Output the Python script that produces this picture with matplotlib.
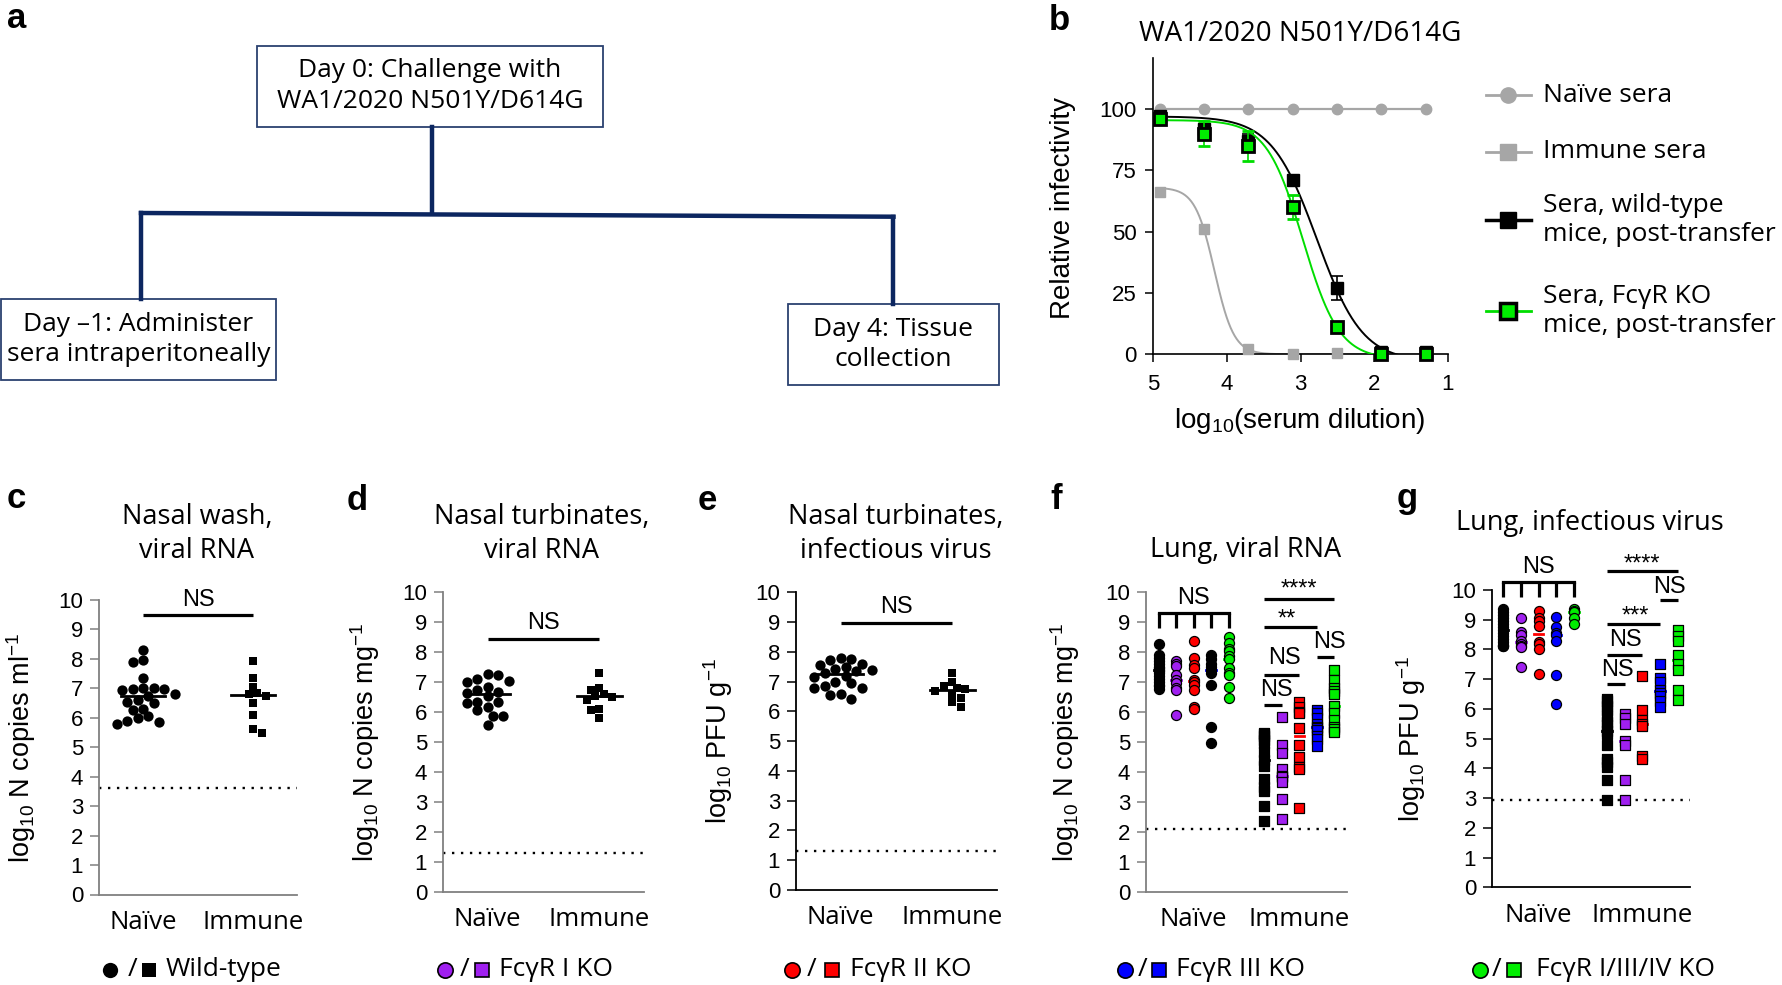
import numpy as np
import matplotlib
matplotlib.use("Agg")
import matplotlib.pyplot as plt
from matplotlib.patches import Rectangle

plt.rcParams['font.family'] = ['Liberation Sans', 'DejaVu Sans']
plt.rcParams['mathtext.default'] = 'regular'
SANS = ['Open Sans', 'DejaVu Sans']

# ---------------- data ----------------
# panel b: neutralisation curves
dilution_log10 = [4.91, 4.31, 3.71, 3.11, 2.51, 1.91, 1.30]
naive_sera = [100, 100, 100, 100, 100, 100, 100]
immune_sera = [66, 51, 2, 0, 0.5, 0, 0]
wt_sera = [97, 92, 87, 71, 27, 1, 1]
wt_sem = [1.0, 2.0, 3.0, 2.0, 5.0, 0.5, 0.5]
ko_sera = [96, 90, 85, 60, 11, 0, 0]
ko_sem = [1.0, 5.0, 6.0, 5.0, 1.0, 0.0, 0.0]
# fitted four-parameter logistic (top, bottom, logEC50, hill)
fit_immune = (68, 0, 4.17, 3.3)
fit_wt = (97, -3, 2.78, 1.4)
fit_ko = (95.5, -2, 2.97, 1.76)

group_labels = ['Naïve', 'Immune']
genotype_labels = ['Wild-type', 'FcγR I KO', 'FcγR II KO', 'FcγR III KO', 'FcγR I/III/IV KO']
genotype_colors = ['#000000', '#A020F0', '#FF0000', '#0000FF', '#00EE00']

# panel c: nasal wash viral RNA
c_naive = [8.3, 7.95, 7.88, 7.35, 7.02, 7.0, 6.98, 6.95, 6.97, 6.8, 6.75, 6.6, 6.55,
           6.5, 6.3, 6.25, 6.05, 6.0, 5.88, 5.85, 5.78]
c_immune = [7.93, 7.35, 7.05, 6.85, 6.8, 6.75, 6.5, 6.1, 5.62, 5.5]
c_lod = 3.63
# panel d: nasal turbinates viral RNA
d_naive = [7.28, 7.22, 7.1, 7.05, 7.0, 6.85, 6.72, 6.68, 6.65, 6.55, 6.35, 6.32, 6.3,
           6.15, 6.05, 5.88, 5.85, 5.55]
d_immune = [7.3, 6.8, 6.75, 6.6, 6.55, 6.5, 6.4, 6.1, 6.05, 5.8]
d_lod = 1.3
# panel e: nasal turbinates infectious virus
e_naive = [7.78, 7.75, 7.72, 7.6, 7.55, 7.5, 7.42, 7.38, 7.35, 7.3, 7.2, 7.15, 7.0,
           6.95, 6.85, 6.8, 6.78, 6.6, 6.55, 6.4]
e_immune = [7.3, 7.0, 6.85, 6.8, 6.75, 6.7, 6.55, 6.45, 6.3, 6.15]
e_lod = 1.3

# panel f: lung viral RNA (wt, FcgRI KO, FcgRII KO, FcgRIII KO, FcgRI/III/IV KO)
f_naive_wt = [8.25, 7.9, 7.8, 7.7, 7.6, 7.5, 7.45, 7.4, 7.35, 7.3, 7.2, 7.1, 7.0, 6.9, 6.85, 6.75]
f_naive_ko1 = [7.68, 7.6, 7.52, 7.22, 7.05, 6.95, 6.78, 6.72, 5.9]
f_naive_ko2 = [8.35, 7.78, 7.55, 7.45, 7.05, 6.98, 6.88, 6.72, 6.15, 6.08]
f_naive_ko3 = [7.88, 7.75, 7.6, 7.5, 7.4, 7.3, 6.9, 5.5, 4.95]
f_naive_ko134 = [8.48, 8.3, 8.08, 8.02, 7.85, 7.75, 7.45, 7.3, 7.22, 6.82, 6.45]
f_immune_wt = [5.3, 5.25, 5.2, 5.05, 4.95, 4.65, 4.4, 4.2, 3.75, 3.5, 3.35, 2.85, 2.35]
f_immune_ko1 = [5.82, 4.88, 4.62, 4.1, 3.87, 3.82, 3.65, 3.1, 2.42]
f_immune_ko2 = [6.33, 6.15, 6.0, 5.95, 5.45, 4.9, 4.5, 4.15, 4.08, 2.78]
f_immune_ko3 = [6.05, 5.95, 5.8, 5.6, 5.5, 5.45, 5.4, 5.2, 5.1, 4.85]
f_immune_ko134 = [7.4, 7.05, 6.8, 6.7, 6.6, 6.2, 5.95, 5.72, 5.5, 5.42, 5.33]
f_lod = 2.1

# panel g: lung infectious virus
g_naive_wt = [9.35, 9.25, 9.15, 9.05, 8.95, 8.85, 8.75, 8.65, 8.55, 8.45, 8.35, 8.25, 8.15, 8.1, 8.1]
g_naive_ko1 = [9.05, 8.6, 8.48, 8.28, 8.2, 8.12, 8.08, 7.42]
g_naive_ko2 = [9.28, 9.05, 8.95, 8.8, 8.25, 8.18, 8.0, 7.17]
g_naive_ko3 = [9.08, 8.75, 8.55, 8.5, 8.28, 7.15, 6.15]
g_naive_ko134 = [9.35, 9.3, 9.25, 9.05, 8.85]
g_immune_wt = [6.35, 6.25, 6.1, 5.95, 5.75, 5.55, 5.45, 5.25, 5.15, 4.8, 4.3, 4.2, 4.05, 3.6, 2.93]
g_immune_ko1 = [5.82, 5.68, 5.5, 4.93, 4.78, 3.6, 2.93]
g_immune_ko2 = [7.1, 5.98, 5.62, 5.5, 5.42, 4.4, 4.3]
g_immune_ko3 = [7.5, 7.05, 6.9, 6.65, 6.55, 6.45, 6.25, 6.05]
g_immune_ko134 = [8.65, 8.45, 8.28, 7.82, 7.5, 7.3, 6.65, 6.3]
g_lod = 2.93

# ---------------- figure ----------------
W, H = 1783, 985
fig = plt.figure(figsize=(W / 100, H / 100), dpi=100)
ov = fig.add_axes([0, 0, 1, 1])
ov.set_xlim(0, W)
ov.set_ylim(H, 0)
ov.axis('off')


def px_axes(x0, x1, ytop, ybot):
    ax = fig.add_axes([x0 / W, 1 - ybot / H, (x1 - x0) / W, (ybot - ytop) / H])
    ax.patch.set_alpha(0)
    return ax


def swarm(vals, diam, ppx, ppy, min_frac=0.85, max_px=None):
    vals = np.asarray(vals, float)
    order = np.argsort(-vals, kind='stable')
    placed = []
    offs = np.zeros(len(vals))
    step = diam * 0.5
    dmin = min_frac * diam
    for n, i in enumerate(order):
        ypx = vals[i] * ppy
        cands = [0.0]
        for k in range(1, 30):
            if n % 2:
                cands += [k * step, -k * step]
            else:
                cands += [-k * step, k * step]
        if max_px is not None:
            cands = [c for c in cands if abs(c) <= max_px + 1e-9]
        best, bestd, fallback = None, -1, 0.0
        for c in cands:
            d = min([np.hypot(c - px, ypx - py) for px, py in placed] + [1e9])
            if d >= dmin:
                best = c
                break
            if d > bestd:
                bestd, fallback = d, c
        if best is None:
            best = fallback
        placed.append((best, ypx))
        offs[i] = best / ppx
    return offs


# ---------- panel letters ----------
for letter, x, y in [('a', 7, 28), ('b', 1049, 30), ('c', 7, 508), ('d', 347, 510),
                     ('e', 698, 510), ('f', 1050, 509), ('g', 1397, 508)]:
    ov.text(x, y, letter, fontsize=25, fontweight='bold', ha='left', va='baseline')

# ---------- panel a ----------
box_ec = '#2b4170'
navy = '#0c2660'
for (x, y, w, h) in [(257.5, 45.7, 345.5, 81), (1.3, 299, 274.7, 81), (788, 304, 210.7, 81)]:
    ov.add_patch(Rectangle((x, y), w, h, fill=False, ec=box_ec, lw=1.3))
for xs, ys in [([431.7, 431.7], [126.7, 213]), ([141, 893.5], [213, 216.7]),
               ([141, 141], [213, 299]), ([893.5, 893.5], [216.7, 304])]:
    ov.plot(xs, ys, color=navy, lw=3.2, solid_capstyle='projecting')
ov.text(430, 86, 'Day 0: Challenge with\nWA1/2020 N501Y/D614G', ha='center', va='center',
        fontsize=19, family=SANS, linespacing=1.3)
ov.text(138.5, 339.5, 'Day \u20131: Administer\nsera intraperitoneally', ha='center', va='center',
        fontsize=19, family=SANS, linespacing=1.3)
ov.text(893, 344.5, 'Day 4: Tissue\ncollection', ha='center', va='center',
        fontsize=19, family=SANS, linespacing=1.3)

# ---------- panel b ----------
gray = '#a6a6a6'
axb = px_axes(1153.4, 1447.9, 58.3, 354.3)
axb.set_xlim(5, 1)
axb.set_ylim(0, 120.7)
for s in ['top', 'right']:
    axb.spines[s].set_visible(False)
for s in ['left', 'bottom']:
    axb.spines[s].set_linewidth(1.2)
axb.set_xticks([5, 4, 3, 2, 1])
axb.set_yticks([0, 25, 50, 75, 100])
axb.tick_params(length=6, width=1.1, labelsize=16, pad=6)
axb.tick_params(axis='x', pad=8)


def logistic(x, p):
    top, bottom, ec50, hill = p
    return bottom + (top - bottom) / (1 + 10 ** (hill * (ec50 - x)))


xs = np.linspace(dilution_log10[0], dilution_log10[-1], 400)
axb.plot(dilution_log10, naive_sera, color=gray, lw=1.6, marker='o', ms=7.5, zorder=3, clip_on=False)
axb.plot(xs, logistic(xs, fit_immune), color=gray, lw=1.4, zorder=2)
axb.plot(dilution_log10, immune_sera, ls='none', marker='s', ms=7.5, color=gray, zorder=3, clip_on=False)
axb.plot(xs, logistic(xs, fit_wt), color='k', lw=1.4, zorder=4)
axb.errorbar(dilution_log10, wt_sera, yerr=wt_sem, fmt='s', ms=9, color='k', ecolor='k',
             elinewidth=1.2, capsize=4, capthick=1.2, zorder=5, clip_on=False)
axb.plot(xs, logistic(xs, fit_ko), color='#00dd00', lw=1.4, zorder=6)
axb.errorbar(dilution_log10, ko_sera, yerr=ko_sem, fmt='s', ms=9, mfc='#00ee00', mec='k', mew=2,
             ecolor='#00dd00', elinewidth=1.2, capsize=4, capthick=1.2, zorder=7, clip_on=False)
ov.text(1300, 34, 'WA1/2020 N501Y/D614G', ha='center', va='center', fontsize=20, family=SANS)
ov.text(1063, 208, 'Relative infectivity', rotation=90, ha='center', va='center', fontsize=20)
ov.text(1300, 421, r'log$_{10}$(serum dilution)', ha='center', va='center', fontsize=20)

# legend of b
leg_rows = [
    (95, 'Naïve sera', dict(color=gray, marker='o', ms=11, lw=2)),
    (151.7, 'Immune sera', dict(color=gray, marker='s', ms=11, lw=2)),
    (220, 'Sera, wild-type\nmice, post-transfer', dict(color='k', marker='s', ms=12, lw=2.5)),
    (311, 'Sera, FcγR KO\nmice, post-transfer', dict(color='#00dd00', marker='s', ms=12, lw=2,
                                                      mfc='#00ee00', mec='k', mew=2.5)),
]
for y, label, kw in leg_rows:
    ov.plot([1485.6, 1530.6], [y, y], **{k: v for k, v in kw.items() if k in ('color', 'lw')})
    mk = {k: v for k, v in kw.items() if k not in ('lw',)}
    ov.plot([1508], [y], ls='none', **mk)
    ov.text(1543, y, label, ha='left', va='center', fontsize=19, family=SANS, linespacing=1.25)


# ---------- scatter panels ----------
def style_axes(ax, spine_color, xlim):
    ax.set_xlim(*xlim)
    ax.set_ylim(0, 10)
    for s in ['top', 'right']:
        ax.spines[s].set_visible(False)
    for s in ['left', 'bottom']:
        ax.spines[s].set_color(spine_color)
        ax.spines[s].set_linewidth(1.3)
    ax.set_yticks(range(0, 11))
    ax.tick_params(axis='y', length=6.5, width=1.1, color=spine_color, labelsize=16, pad=5)
    ax.set_xticks([0, 1])
    ax.set_xticklabels(group_labels, fontsize=18.5, family=SANS)
    ax.tick_params(axis='x', length=0, pad=11)


dot_ls = (0, (1, 2.8))


def simple_panel(box, naive, immune, lod, spine_color, bar_y, text_y, ylabel, title, title_xy):
    ax = px_axes(*box)
    xlim = (-0.4, 1.4)
    style_axes(ax, spine_color, xlim)
    ppx = (box[1] - box[0]) / (xlim[1] - xlim[0])
    ppy = (box[3] - box[2]) / 10
    for pos, vals, marker, s, diam in [(0, naive, 'o', 55, 10.5), (1, immune, 's', 38, 8.5)]:
        offs = swarm(vals, diam, ppx, ppy, 0.85)
        ax.scatter(pos + offs, vals, s=s, marker=marker, c='k', linewidths=0, clip_on=False, zorder=3)
        med = np.median(vals)
        ax.plot([pos - 0.2, pos + 0.2], [med, med], color='k', lw=2, zorder=4)
    ax.plot(xlim, [lod, lod], color='k', lw=1.7, ls=dot_ls, clip_on=False)
    ax.plot([0, 1], [bar_y, bar_y], color='k', lw=2.3, clip_on=False, solid_capstyle='butt')
    ax.text(0.5, text_y, 'NS', ha='center', va='center', fontsize=17)
    ov.text(box[0] - 78, (box[2] + box[3]) / 2, ylabel, rotation=90, ha='center', va='center', fontsize=19.5)
    ov.text(title_xy[0], title_xy[1], title, ha='center', va='center', fontsize=19.5, family=SANS,
            linespacing=1.3)
    return ax


simple_panel((99, 297, 600, 894.5), c_naive, c_immune, c_lod, '#808080', 9.49, 10.0,
             r'log$_{10}$ N copies ml$^{-1}$', 'Nasal wash,\nviral RNA', (197, 534))
simple_panel((443, 644, 592.3, 891.5), d_naive, d_immune, d_lod, '#808080', 8.43, 8.96,
             r'log$_{10}$ N copies mg$^{-1}$', 'Nasal turbinates,\nviral RNA', (542, 534))
simple_panel((796, 997, 592.3, 890), e_naive, e_immune, e_lod, '#000000', 8.96, 9.5,
             r'log$_{10}$ PFU g$^{-1}$', 'Nasal turbinates,\ninfectious virus', (896, 534))


def multi_panel(box, xlim, spacing, naive_groups, immune_groups, naive_fill, lod, spine_color,
                bracket, bars, ylabel, title, title_xy):
    ax = px_axes(*box)
    style_axes(ax, spine_color, xlim)
    ppx = (box[1] - box[0]) / (xlim[1] - xlim[0])
    ppy = (box[3] - box[2]) / 10
    for center, groups, marker, s, diam, fills in [
            (0, naive_groups, 'o', 52, 9.8, naive_fill),
            (1, immune_groups, 's', 44, 8.8, genotype_colors)]:
        for gi, vals in enumerate(groups):
            pos = center + (gi - 2) * spacing
            offs = swarm(vals, diam, ppx, ppy, 0.5, max_px=4)
            ax.scatter(pos + offs, vals, s=s, marker=marker, c=fills[gi], edgecolors='k',
                       linewidths=0.9, clip_on=False, zorder=3)
            med = np.median(vals)
            ax.plot([pos - 0.045, pos + 0.045], [med, med], color=genotype_colors[gi], lw=2, zorder=2)
    ax.plot(xlim, [lod, lod], color='k', lw=1.7, ls=dot_ls, clip_on=False, zorder=1)
    # naive bracket
    top, bot, ty = bracket
    xs_b = [(gi - 2) * spacing for gi in range(5)]
    ax.plot([xs_b[0], xs_b[-1]], [top, top], color='k', lw=2.3, clip_on=False, solid_capstyle='projecting')
    for xb in xs_b:
        ax.plot([xb, xb], [top, bot], color='k', lw=2.3, clip_on=False, solid_capstyle='butt')
    ax.text(0, ty, 'NS', ha='center', va='center', fontsize=17)
    for label, g0, g1, by, tx, ty2 in bars:
        x0 = 1 + (g0 - 2) * spacing
        x1 = 1 + (g1 - 2) * spacing
        ax.plot([x0, x1], [by, by], color='k', lw=2.3, clip_on=False, solid_capstyle='butt')
        ax.text(tx, ty2, label, ha='center', va='center', fontsize=17)
    ov.text(box[0] - 81, (box[2] + box[3]) / 2, ylabel, rotation=90, ha='center', va='center', fontsize=19.5)
    ov.text(title_xy[0], title_xy[1], title, ha='center', va='center', fontsize=19.5, family=SANS)
    return ax


f_naive = [f_naive_wt, f_naive_ko1, f_naive_ko2, f_naive_ko3, f_naive_ko134]
f_immune = [f_immune_wt, f_immune_ko1, f_immune_ko2, f_immune_ko3, f_immune_ko134]
g_naive = [g_naive_wt, g_naive_ko1, g_naive_ko2, g_naive_ko3, g_naive_ko134]
g_immune = [g_immune_wt, g_immune_ko1, g_immune_ko2, g_immune_ko3, g_immune_ko134]

f_fill_naive = ['#000000', '#A020F0', '#FF0000', '#000000', '#00EE00']
multi_panel((1146, 1347, 591.7, 891.7), (-0.45, 1.45), 0.165, f_naive, f_immune, f_fill_naive,
            f_lod, '#808080', (9.28, 8.78, 9.79),
            [('****', 0, 4, 9.76, 1.0, 10.07), ('**', 0, 3, 8.81, 0.88, 9.07),
             ('NS', 3, 4, 7.83, 1.28, 8.33), ('NS', 0, 2, 7.22, 0.855, 7.78),
             ('NS', 0, 1, 6.24, 0.78, 6.72)],
            r'log$_{10}$ N copies mg$^{-1}$', 'Lung, viral RNA', (1246, 550))
multi_panel((1492, 1690, 590, 887.3), (-0.45, 1.46), 0.17, g_naive, g_immune, genotype_colors,
            g_lod, '#000000', (10.28, 9.78, 10.78),
            [('****', 0, 4, 10.64, 1.0, 10.84), ('NS', 3, 4, 9.66, 1.26, 10.09),
             ('***', 0, 3, 8.86, 0.93, 9.11), ('NS', 0, 2, 7.81, 0.84, 8.32),
             ('NS', 0, 1, 6.84, 0.76, 7.31)],
            r'log$_{10}$ PFU g$^{-1}$', 'Lung, infectious virus', (1590, 523))

# ---------- bottom genotype key ----------
key_pos = [(110, 133, 149, 166), (445, 465, 482, 499), (792, 812, 832, 850),
           (1125, 1143, 1159, 1176), (1480, 1497, 1514, 1536)]
ky = 970
for (cx, slx, sqx, tx), label, col in zip(key_pos, genotype_labels, genotype_colors):
    ov.plot([cx], [ky], marker='o', ms=11, mfc=col, mec='k', mew=1.2 if col != '#000000' else 0, ls='none')
    ov.text(slx, ky, '/', ha='center', va='center', fontsize=19, family=SANS)
    ov.plot([sqx], [ky], marker='s', ms=9.5, mfc=col, mec='k', mew=1.2 if col != '#000000' else 0, ls='none')
    ov.text(tx, ky, label, ha='left', va='center', fontsize=19, family=SANS)

fig.savefig('out.png', dpi=100)
